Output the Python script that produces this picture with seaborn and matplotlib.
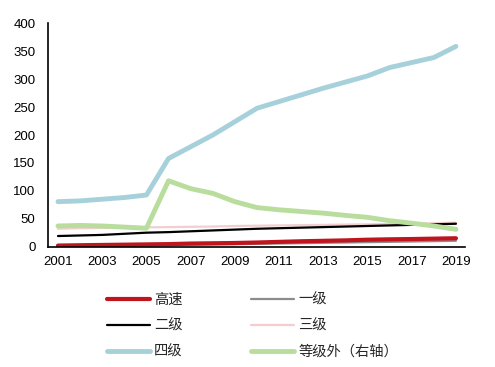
import matplotlib
matplotlib.use("Agg")
import matplotlib.pyplot as plt
import seaborn as sns
import pandas as pd

years = list(range(2001, 2020))
gaosu = [1.9, 2.5, 3, 3.5, 4, 4.5, 5.5, 6, 6.5, 7.4, 8.5, 9.6, 10.4, 11.2, 12.4, 13.1, 13.6, 14.3, 15]
yiji = [0.8, 1.2, 1.6, 2, 2.4, 2.9, 3.4, 3.9, 4.4, 5, 5.6, 6.2, 6.8, 7.4, 8, 8.6, 9.2, 9.8, 10.5]
erji = [19, 20, 21, 23, 25, 26, 27.5, 29, 30.5, 32, 33, 34, 35, 36, 37, 38, 39, 40, 41]
sanji = [32, 33, 33.5, 34, 34.5, 35, 35.5, 36, 37, 37.5, 38, 38.5, 39, 39.5, 40, 40.5, 41, 42, 43]
siji = [80.6, 82, 85, 88, 92.5, 158, 179, 200, 224, 248, 260, 272, 284, 295, 306, 321, 330, 339, 359]
dengjiwai = [37, 38, 37, 35, 33, 118, 104, 95.5, 80.6, 70, 66, 63, 60, 56, 52.5, 46.5, 42, 37, 31]

labels = ["高速", "一级", "二级", "三级", "四级", "等级外（右轴）"]
series = [gaosu, yiji, erji, sanji, siji, dengjiwai]
colors = ["#C0141E", "#8C8C8C", "#000000", "#F2CFCF", "#A6D1DB", "#B9DD9C"]
widths = [3.0, 1.6, 1.6, 1.6, 3.5, 3.5]
order = [3, 1, 2, 0, 4, 5]  # draw order

sns.set_style("white")
plt.rcParams['font.family'] = ['Liberation Sans', 'Noto Sans CJK SC', 'DejaVu Sans']

fig = plt.figure(figsize=(4.95, 3.67), dpi=100)
ax = fig.add_axes([0.097, 0.328, 0.842, 0.608])

handles = {}
for i in order:
    df = pd.DataFrame({"year": years, "value": series[i]})
    sns.lineplot(data=df, x="year", y="value", ax=ax, color=colors[i], linewidth=widths[i],
                 label=labels[i], legend=False)
    handles[i] = ax.lines[-1]

ax.set_xlim(2000.55, 2019.4)
ax.set_ylim(0, 400)
ax.set_xticks(list(range(2001, 2020, 2)))
ax.set_yticks(list(range(0, 401, 50)))
ax.tick_params(axis='both', length=0, labelsize=9.5, colors='#000000')
ax.tick_params(axis='y', pad=9)
ax.tick_params(axis='x', pad=7)
ax.set_xlabel("")
ax.set_ylabel("")
for s in ["top", "right"]:
    ax.spines[s].set_visible(False)
for s in ["left", "bottom"]:
    ax.spines[s].set_color("#000000")
    ax.spines[s].set_linewidth(1.2)

# column-major order so rows read: 高速/一级, 二级/三级, 四级/等级外
leg_order = [0, 2, 4, 1, 3, 5]
fig.legend([handles[i] for i in leg_order], [labels[i] for i in leg_order],
           loc="upper left", bbox_to_anchor=(0.19, 0.238), ncol=2, frameon=False,
           handlelength=3.0, handletextpad=0.3, columnspacing=4.8,
           labelspacing=0.85, prop={'family': ['Noto Sans CJK SC', 'DejaVu Sans'], 'size': 10.3})

fig.savefig("out.png", dpi=100)
